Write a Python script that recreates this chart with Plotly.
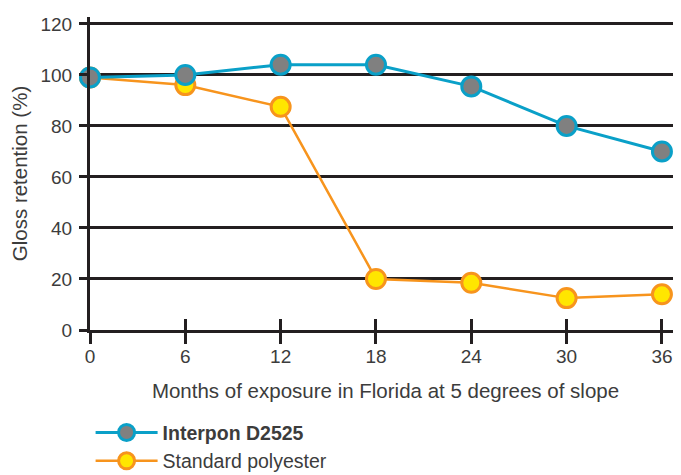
import plotly.graph_objects as go

months = [0, 6, 12, 18, 24, 30, 36]
interpon = [99, 100, 104, 104, 95.5, 80, 70]
standard = [99, 96, 87.5, 20, 18.5, 12.5, 14]
y_ticks = [0, 20, 40, 60, 80, 100, 120]

dark = "#231f20"
text_col = "#3c3c3c"
font_fam = "Liberation Sans, Arial, sans-serif"

fig = go.Figure()
fig.add_trace(go.Scatter(
    x=months, y=standard, name="Standard polyester", mode="lines+markers",
    line=dict(color="#f7941d", width=2.5),
    marker=dict(size=19, color="#ffe600", line=dict(color="#f7941d", width=3)),
    cliponaxis=False, legendrank=2,
))
fig.add_trace(go.Scatter(
    x=months, y=interpon, name="<b>Interpon D2525</b>", mode="lines+markers",
    line=dict(color="#0aa0c8", width=3),
    marker=dict(size=19, color="#808080", line=dict(color="#0aa0c8", width=3)),
    cliponaxis=False, legendrank=1,
))
# invisible trace for inner half of crossing ticks
fig.add_trace(go.Scatter(x=[None], y=[None], xaxis="x2", showlegend=False, hoverinfo="skip"))

# page body has an 8px default margin, so the figure is drawn 8px smaller
fig.update_layout(
    width=673, height=467,
    margin=dict(l=82, r=0, t=9, b=145, autoexpand=False),
    paper_bgcolor="white", plot_bgcolor="white",
    font=dict(family=font_fam, color=text_col, size=18),
    xaxis=dict(
        range=[0, 37.2], tickvals=months, ticktext=[str(m) for m in months],
        ticks="outside", ticklen=11, tickwidth=3, tickcolor=dark,
        showgrid=False, zeroline=False, showline=True, linecolor=dark, linewidth=3,
        tickfont=dict(size=19, color=text_col), automargin=False, ticklabelstandoff=-4,
        title=dict(text="Months of exposure in Florida at 5 degrees of slope",
                   font=dict(size=20.5, color=text_col), standoff=18),
    ),
    xaxis2=dict(
        range=[0, 37.2], tickvals=months, showticklabels=False,
        overlaying="x", side="bottom", anchor="y",
        ticks="inside", ticklen=11, tickwidth=3, tickcolor=dark,
        showgrid=False, zeroline=False, showline=False, automargin=False,
    ),
    yaxis=dict(
        range=[0, 122.7], tickvals=y_ticks, ticktext=[str(v) for v in y_ticks],
        ticks="outside", ticklen=8, tickwidth=3, tickcolor=dark,
        showgrid=True, gridcolor=dark, gridwidth=3,
        zeroline=False, showline=True, linecolor=dark, linewidth=3,
        tickfont=dict(size=19, color=text_col), automargin=False, ticklabelstandoff=3,
        title=dict(text="Gloss retention (%)", font=dict(size=20.5, color=text_col), standoff=15),
    ),
    legend=dict(
        x=0.001, y=-0.266, xanchor="left", yanchor="top",
        orientation="v", font=dict(size=19.5, color=text_col),
        itemwidth=62, tracegroupgap=0, bgcolor="rgba(0,0,0,0)",
    ),
)

fig.write_html("out.html")
